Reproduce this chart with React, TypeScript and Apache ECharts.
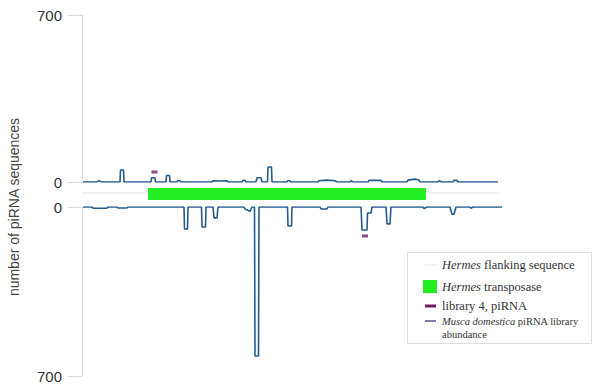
import React, { useEffect, useRef } from "react";
import * as echarts from "echarts";

// x positions in bp along the locus (0..4200), y = number of piRNA sequences
const topAbundance: [number, number][] = [
  [10, 0], [150, 0], [160, 4], [180, 4], [190, 0], [380, 0], [385, 50], [415, 50], [420, 0],
  [690, 0], [695, 18], [730, 18], [735, 0], [840, 0], [845, 27], [875, 27], [880, 0],
  [950, 0], [955, 5], [980, 5], [985, 0], [1300, 0], [1310, 5], [1380, 4], [1450, 5], [1460, 0],
  [1600, 0], [1610, 7], [1630, 7], [1640, 0], [1740, 0], [1750, 18], [1790, 18], [1800, 0],
  [1855, 0], [1860, 63], [1895, 63], [1900, 0], [2050, 0], [2055, 5], [2080, 5], [2085, 0],
  [2360, 0], [2370, 5], [2450, 8], [2530, 5], [2550, 0], [2680, 0], [2690, 5], [2710, 0],
  [2860, 0], [2870, 7], [2990, 7], [3000, 0], [3250, 0], [3260, 8], [3330, 12], [3370, 8], [3380, 0],
  [3560, 0], [3570, 5], [3600, 0], [3710, 0], [3720, 7], [3750, 7], [3760, 0], [4160, 0],
];

const bottomAbundance: [number, number][] = [
  [10, 0], [100, 0], [110, 5], [250, 5], [260, 0], [350, 0], [360, 4], [450, 4], [460, 0],
  [1020, 0], [1025, 91], [1055, 91], [1060, 0], [1195, 0], [1200, 83], [1235, 83], [1240, 0],
  [1310, 0], [1320, 45], [1350, 45], [1360, 0], [1620, 0], [1630, 8], [1680, 18], [1700, 0],
  [1725, 0], [1730, 617], [1765, 617], [1770, 0], [2055, 0], [2060, 79], [2095, 79], [2100, 0],
  [2380, 0], [2390, 8], [2450, 8], [2460, 0], [2790, 0], [2800, 95], [2850, 95], [2855, 25],
  [2890, 25], [2900, 0], [3040, 0], [3050, 70], [3080, 70], [3090, 0], [3410, 0], [3420, 6],
  [3450, 0], [3680, 0], [3700, 30], [3720, 30], [3740, 0], [3880, 0], [3890, 5], [3910, 0], [4200, 0],
];

const library4Top: [number, number][] = [[725, 42]];
const library4Bottom: [number, number][] = [[2830, 120]];

const flankingSequence: [number, number][] = [[0, 0.55], [4180, 0.55]];
const transposase: [number, number][] = [[660, 3440]];

const yTicks = [0, 700];
const yTitle = "number of piRNA sequences";
const legendLabels = [
  "{i|Hermes} flanking sequence",
  "{i|Hermes} transposase",
  "library 4, piRNA",
  "{i|Musca domestica} piRNA library",
  "abundance",
];

const LINE_COLOR = "#245a8c";
const GREEN = "#22ee22";
const PURPLE = "#6e1d62";
const SANS = "'Liberation Sans', Arial, sans-serif";
const SERIF = "'Liberation Serif', 'Times New Roman', serif";

export default function App() {
  const ref = useRef<HTMLDivElement>(null);
  useEffect(() => {
    if (!ref.current) return;
    const chart = echarts.init(ref.current, undefined, { renderer: "svg" });
    const yAxisBase = (gridIndex: number, inverse: boolean) => ({
      type: "value" as const,
      gridIndex,
      min: yTicks[0],
      max: yTicks[1],
      interval: yTicks[1] - yTicks[0],
      inverse,
      axisLine: { show: true, lineStyle: { color: "#d9d9d9", width: 1 } },
      axisTick: { show: true, length: 14, lineStyle: { color: "#d9d9d9" } },
      axisLabel: { margin: 20, fontSize: 15, color: "#333", fontFamily: SANS },
      splitLine: { show: false },
    });
    const xAxisBase = (gridIndex: number) => ({
      type: "value" as const,
      gridIndex,
      min: 0,
      max: 4200,
      show: false,
    });
    const legendText = (i: number, y: number, size: number) => ({
      type: "text",
      x: 442,
      y,
      style: {
        text: legendLabels[i],
        fontSize: size,
        fontFamily: SERIF,
        fill: "#333",
        verticalAlign: "middle",
        rich: {
          i: { fontStyle: "italic", fontSize: size, fontFamily: SERIF, fill: "#333" },
          n: { fontSize: size, fontFamily: SERIF, fill: "#333" },
        },
      },
    });
    chart.setOption({
      animation: false,
      grid: [
        { left: 82, top: 15, width: 420, height: 167 },
        { left: 82, top: 207, width: 420, height: 169 },
        { left: 82, top: 184, width: 420, height: 20 },
      ],
      xAxis: [xAxisBase(0), xAxisBase(1), xAxisBase(2)],
      yAxis: [
        yAxisBase(0, false),
        yAxisBase(1, true),
        { type: "value", gridIndex: 2, min: 0, max: 1, show: false },
      ],
      series: [
        {
          type: "line",
          xAxisIndex: 0,
          yAxisIndex: 0,
          data: topAbundance,
          symbol: "none",
          lineStyle: { color: LINE_COLOR, width: 1.6 },
        },
        {
          type: "line",
          xAxisIndex: 1,
          yAxisIndex: 1,
          data: bottomAbundance,
          symbol: "none",
          lineStyle: { color: LINE_COLOR, width: 1.6 },
        },
        {
          type: "scatter",
          xAxisIndex: 0,
          yAxisIndex: 0,
          data: library4Top,
          symbol: "rect",
          symbolSize: [6, 3],
          itemStyle: { color: PURPLE },
        },
        {
          type: "scatter",
          xAxisIndex: 1,
          yAxisIndex: 1,
          data: library4Bottom,
          symbol: "rect",
          symbolSize: [6, 3],
          itemStyle: { color: PURPLE },
        },
        {
          type: "line",
          xAxisIndex: 2,
          yAxisIndex: 2,
          data: flankingSequence,
          symbol: "none",
          z: 1,
          lineStyle: { color: "#e6e6e6", width: 1 },
        },
        {
          type: "custom",
          xAxisIndex: 2,
          yAxisIndex: 2,
          data: transposase,
          z: 5,
          renderItem: (params: any, api: any) => {
            const p0 = api.coord([api.value(0), 0.8]);
            const p1 = api.coord([api.value(1), 0.2]);
            return {
              type: "rect",
              shape: { x: p0[0], y: p0[1], width: p1[0] - p0[0], height: p1[1] - p0[1] },
              style: { fill: GREEN },
            };
          },
        },
      ],
      graphic: [
        {
          type: "text",
          x: 14,
          y: 207,
          rotation: Math.PI / 2,
          style: {
            text: yTitle,
            fontSize: 14,
            fontFamily: SANS,
            fill: "#444",
            align: "center",
            verticalAlign: "middle",
          },
        },
        {
          type: "rect",
          shape: { x: 407.5, y: 252.5, width: 184, height: 91 },
          style: { fill: "#fff", stroke: "#dddddd", lineWidth: 1 },
        },
        {
          type: "line",
          shape: { x1: 425, y1: 265, x2: 437, y2: 265 },
          style: { stroke: "#e6e6e6", lineWidth: 1 },
        },
        legendText(0, 265, 12.5),
        {
          type: "rect",
          shape: { x: 423, y: 280, width: 14, height: 13 },
          style: { fill: GREEN },
        },
        legendText(1, 287, 12.5),
        {
          type: "line",
          shape: { x1: 425, y1: 306, x2: 436, y2: 306 },
          style: { stroke: PURPLE, lineWidth: 3 },
        },
        legendText(2, 306, 12.5),
        {
          type: "line",
          shape: { x1: 425, y1: 321, x2: 436, y2: 321 },
          style: { stroke: "#5b4f8e", lineWidth: 1.5 },
        },
        legendText(3, 321, 10.5),
        {
          type: "text",
          x: 442,
          y: 334,
          style: {
            text: legendLabels[4],
            font: "10.5px 'Liberation Serif', 'Times New Roman', serif",
            fill: "#333",
            verticalAlign: "middle",
          },
        },
      ],
    });
    return () => chart.dispose();
  }, []);
  return (
    <div
      ref={ref}
      style={{ position: "absolute", left: 0, top: 0, width: 600, height: 391 }}
    />
  );
}
